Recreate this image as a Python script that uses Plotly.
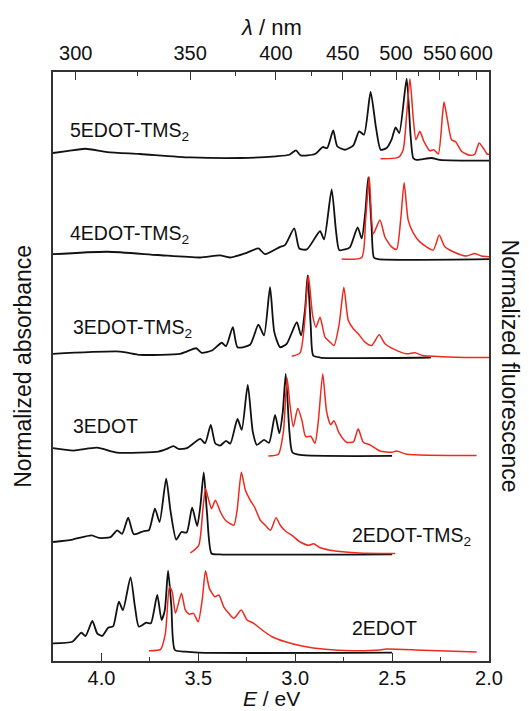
import plotly.graph_objects as go

# ---------------- data (E in eV, normalized intensity) ----------------
labels = ["5EDOT-TMS<sub>2</sub>", "4EDOT-TMS<sub>2</sub>", "3EDOT-TMS<sub>2</sub>",
          "3EDOT", "2EDOT-TMS<sub>2</sub>", "2EDOT"]
offsets = [6.0, 4.8, 3.6, 2.4, 1.2, 0.0]

a5_E = [4.25, 4.17, 4.083, 3.97, 3.80, 3.54, 3.285, 3.10, 3.03, 2.996, 2.972, 2.898, 2.858, 2.835, 2.804,
        2.783, 2.743, 2.70, 2.67, 2.645, 2.611, 2.583, 2.559, 2.528, 2.503, 2.482, 2.463, 2.425, 2.405,
        2.391, 2.374, 2.297, 2.254, 2.0]
a5_v = [0.094, 0.12, 0.146, 0.106, 0.082, 0.04, 0.033, 0.054, 0.073, 0.127, 0.066, 0.082, 0.167, 0.155,
        0.37, 0.176, 0.134, 0.188, 0.359, 0.317, 0.838, 0.40, 0.134, 0.155, 0.256, 0.407, 0.338, 1.0,
        0.317, 0.033, 0.01, 0.033, 0.01, 0.0]
f5_E = [2.559, 2.468, 2.443, 2.425, 2.408, 2.391, 2.377, 2.357, 2.336, 2.305, 2.285, 2.262, 2.24, 2.232,
        2.216, 2.193, 2.171, 2.142, 2.099, 2.073, 2.051, 2.03, 2.01, 2.0]
f5_v = [0.024, 0.04, 0.134, 0.56, 1.0, 0.52, 0.256, 0.358, 0.237, 0.122, 0.134, 0.082, 0.56, 0.716, 0.52,
        0.256, 0.228, 0.115, 0.066, 0.082, 0.216, 0.155, 0.082, 0.08]

a4_E = [4.25, 3.97, 3.71, 3.491, 3.388, 3.336, 3.25, 3.19, 3.156, 3.078, 3.053, 3.005, 2.979, 2.94, 2.872,
        2.851, 2.812, 2.79, 2.773, 2.743, 2.718, 2.678, 2.657, 2.639, 2.623, 2.606, 2.594, 2.572, 2.0]
a4_v = [0.06, 0.09, 0.05, 0.02, 0.045, 0.02, 0.077, 0.13, 0.06, 0.15, 0.17, 0.374, 0.13, 0.118, 0.34,
        0.24, 0.85, 0.354, 0.11, 0.118, 0.143, 0.387, 0.252, 0.557, 1.0, 0.394, 0.02, 0.0, 0.0]
f4_E = [2.76, 2.657, 2.637, 2.618, 2.597, 2.563, 2.537, 2.503, 2.477, 2.456, 2.438, 2.417, 2.391, 2.357,
        2.288, 2.257, 2.228, 2.185, 2.116, 2.073, 2.039, 2.0]
f4_v = [0.0, 0.02, 0.476, 1.0, 0.31, 0.476, 0.27, 0.15, 0.118, 0.476, 0.93, 0.476, 0.32, 0.21, 0.11,
        0.293, 0.15, 0.09, 0.037, 0.07, 0.037, 0.03]

a3t_E = [4.25, 3.903, 3.80, 3.594, 3.56, 3.511, 3.482, 3.43, 3.379, 3.357, 3.322, 3.298, 3.233, 3.19,
         3.161, 3.13, 3.108, 3.078, 3.044, 2.992, 2.97, 2.949, 2.936, 2.92, 2.907, 2.872, 2.30]
a3t_v = [0.045, 0.073, 0.033, 0.045, 0.073, 0.113, 0.057, 0.085, 0.18, 0.138, 0.37, 0.126, 0.155, 0.40,
         0.27, 0.857, 0.31, 0.126, 0.167, 0.43, 0.27, 0.594, 1.0, 0.39, 0.024, 0.0, 0.0]
f3t_E = [3.018, 2.975, 2.953, 2.932, 2.91, 2.893, 2.872, 2.846, 2.82, 2.80, 2.773, 2.749, 2.726, 2.70,
         2.675, 2.64, 2.606, 2.567, 2.537, 2.494, 2.425, 2.382, 2.34, 2.167, 2.0]
f3t_v = [0.016, 0.057, 0.39, 1.0, 0.51, 0.37, 0.49, 0.248, 0.187, 0.146, 0.41, 0.857, 0.45, 0.35, 0.29,
         0.187, 0.146, 0.277, 0.167, 0.106, 0.045, 0.057, 0.024, 0.004, 0.0]

a3_E = [4.25, 4.144, 4.023, 3.92, 3.80, 3.706, 3.666, 3.628, 3.603, 3.56, 3.49, 3.465, 3.436, 3.413,
        3.388, 3.357, 3.335, 3.298, 3.276, 3.245, 3.219, 3.198, 3.161, 3.135, 3.104, 3.082, 3.064, 3.049,
        3.03, 3.015, 2.975, 2.5]
a3_v = [0.094, 0.065, 0.10, 0.04, 0.04, 0.052, 0.082, 0.12, 0.085, 0.094, 0.207, 0.155, 0.378, 0.155,
        0.126, 0.183, 0.15, 0.45, 0.317, 0.866, 0.296, 0.134, 0.195, 0.16, 0.5, 0.277, 0.54, 1.0, 0.296,
        0.045, 0.012, 0.0]
f3_E = [3.139, 3.087, 3.061, 3.042, 3.027, 3.01, 2.987, 2.966, 2.946, 2.92, 2.898, 2.881, 2.858, 2.838,
        2.817, 2.80, 2.773, 2.735, 2.70, 2.675, 2.649, 2.614, 2.563, 2.503, 2.477, 2.425, 2.064]
f3_v = [0.0, 0.02, 0.296, 0.95, 0.62, 0.357, 0.58, 0.44, 0.235, 0.24, 0.155, 0.42, 1.0, 0.54, 0.38,
        0.43, 0.277, 0.167, 0.17, 0.33, 0.167, 0.134, 0.06, 0.045, 0.06, 0.02, 0.004]

a2t_E = [4.25, 4.15, 4.051, 4.013, 3.953, 3.919, 3.893, 3.862, 3.833, 3.781, 3.755, 3.724, 3.70, 3.666,
         3.644, 3.614, 3.587, 3.56, 3.532, 3.506, 3.489, 3.472, 3.455, 3.432, 3.394, 2.5]
a2t_v = [0.15, 0.18, 0.23, 0.2, 0.21, 0.293, 0.25, 0.447, 0.244, 0.284, 0.293, 0.557, 0.394, 0.923,
         0.537, 0.18, 0.272, 0.265, 0.57, 0.345, 0.6, 1.0, 0.496, 0.01, 0.0, 0.0]
f2t_E = [3.541, 3.498, 3.477, 3.463, 3.446, 3.432, 3.412, 3.386, 3.36, 3.317, 3.30, 3.278, 3.257, 3.232,
         3.21, 3.18, 3.154, 3.128, 3.099, 3.077, 3.051, 3.017, 2.974, 2.93, 2.905, 2.87, 2.793, 2.673, 2.484]
f2t_v = [0.016, 0.11, 0.537, 0.8, 0.659, 0.557, 0.659, 0.516, 0.415, 0.354, 0.537, 1.0, 0.78, 0.659,
         0.577, 0.415, 0.354, 0.293, 0.447, 0.354, 0.284, 0.232, 0.15, 0.11, 0.13, 0.08, 0.04, 0.016, 0.01]

a2_E = [4.25, 4.15, 4.125, 4.103, 4.082, 4.047, 4.022, 3.996, 3.965, 3.94, 3.91, 3.889, 3.85, 3.827,
        3.807, 3.769, 3.745, 3.712, 3.69, 3.673, 3.656, 3.639, 3.621, 3.567, 3.498, 2.5]
a2_v = [0.115, 0.134, 0.195, 0.244, 0.204, 0.387, 0.237, 0.204, 0.305, 0.32, 0.622, 0.52, 0.92, 0.56,
        0.317, 0.366, 0.36, 0.704, 0.4, 0.52, 1.0, 0.56, 0.033, 0.012, 0.0, 0.0]
f2_E = [3.755, 3.695, 3.67, 3.649, 3.635, 3.618, 3.587, 3.567, 3.546, 3.525, 3.501, 3.48, 3.463, 3.443,
        3.415, 3.394, 3.369, 3.343, 3.317, 3.278, 3.249, 3.214, 3.171, 3.12, 3.051, 2.965, 2.845, 2.707,
        2.563, 2.53, 2.34, 2.064]
f2_v = [0.024, 0.04, 0.237, 0.805, 0.744, 0.48, 0.724, 0.52, 0.47, 0.48, 0.378, 0.643, 1.0, 0.785,
        0.683, 0.704, 0.56, 0.48, 0.42, 0.52, 0.4, 0.358, 0.277, 0.195, 0.134, 0.082, 0.041, 0.024,
        0.033, 0.045, 0.03, 0.01]

absorb = [(a5_E, a5_v), (a4_E, a4_v), (a3t_E, a3t_v), (a3_E, a3_v), (a2t_E, a2t_v), (a2_E, a2_v)]
fluor = [(f5_E, f5_v), (f4_E, f4_v), (f3t_E, f3t_v), (f3_E, f3_v), (f2t_E, f2t_v), (f2_E, f2_v)]

# label placement (E, y-offset relative to panel baseline, anchor)
label_pos = [(4.175, 0.36, "left"), (4.175, 0.30, "left"), (4.155, 0.36, "left"),
             (4.155, 0.37, "left"), (2.717, 0.22, "left"), (2.717, 0.30, "left")]

wl_major = [300, 350, 400, 450, 500, 550, 600]
wl_minor = [325, 375, 425, 475, 525, 575]
E_major = [4.0, 3.5, 3.0, 2.5, 2.0]
E_minor = [3.75, 3.25, 2.75, 2.25]

BLACK = "#111111"
RED = "#ee2a1e"
AX = "#333333"
FONT = "Liberation Sans, Arial, sans-serif"

fig = go.Figure()
for off, (E, v) in zip(offsets, absorb):
    fig.add_trace(go.Scatter(x=E, y=[off + a for a in v], mode="lines",
                             line=dict(color=BLACK, width=1.8, shape="spline", smoothing=0.6),
                             hoverinfo="skip"))
for off, (E, v) in zip(offsets, fluor):
    fig.add_trace(go.Scatter(x=E, y=[off + a for a in v], mode="lines",
                             line=dict(color=RED, width=1.5, shape="spline", smoothing=0.6),
                             hoverinfo="skip"))
# dummy trace on top axis
fig.add_trace(go.Scatter(x=[4.25], y=[None], xaxis="x2", mode="lines", hoverinfo="skip"))

for lab, off, (ex, dy, anc) in zip(labels, offsets, label_pos):
    fig.add_annotation(x=ex, y=off + dy, xref="x", yref="y", text=lab, showarrow=False,
                       xanchor=anc, yanchor="middle", font=dict(size=19.5, color="#111", family=FONT))

hc = 1239.84
fig.update_layout(
    width=529, height=711,
    margin=dict(l=53, r=40, t=72, b=50),
    paper_bgcolor="white", plot_bgcolor="white",
    showlegend=False, hovermode=False,
    font=dict(family=FONT, color="#111"),
    xaxis=dict(range=[4.25, 2.0], tickmode="array", tickvals=E_major,
               ticktext=["4.0", "3.5", "3.0", "2.5", "2.0"],
               ticks="inside", ticklen=8, tickwidth=1.3, tickcolor=AX,
               minor=dict(tickmode="array", tickvals=E_minor, ticks="inside", ticklen=4,
                          tickwidth=1.3, tickcolor=AX),
               showline=True, linecolor=AX, linewidth=1.5, mirror=False,
               showgrid=False, zeroline=False, tickangle=0,
               tickfont=dict(size=20, family=FONT, color="#111"), ticklabelstandoff=-2),
    xaxis2=dict(range=[4.25, 2.0], overlaying="x", side="top", anchor="y",
                tickmode="array", tickvals=[hc / w for w in wl_major],
                ticktext=[str(w) for w in wl_major],
                ticks="inside", ticklen=8, tickwidth=1.3, tickcolor=AX,
                minor=dict(tickmode="array", tickvals=[hc / w for w in wl_minor], ticks="inside",
                           ticklen=4, tickwidth=1.3, tickcolor=AX),
                showline=True, linecolor=AX, linewidth=1.5,
                showgrid=False, zeroline=False, tickangle=0,
                tickfont=dict(size=20, family=FONT, color="#111"), ticklabelstandoff=2),
    yaxis=dict(range=[-0.101, 7.082], showticklabels=False, ticks="", showgrid=False,
               zeroline=False, showline=True, linecolor=AX, linewidth=1.5, mirror=True),
)

fig.add_annotation(x=0.5, y=-0.0645, xref="paper", yref="paper", text="<i>E</i> / eV",
                   showarrow=False, xanchor="center", yanchor="middle",
                   font=dict(size=21, family=FONT, color="#111"))
fig.add_annotation(x=0.5, y=1.0764, xref="paper", yref="paper", text="<i>λ</i> / nm",
                   showarrow=False, xanchor="center", yanchor="middle",
                   font=dict(size=22, family=FONT, color="#111"))
fig.add_annotation(x=-0.0704, y=0.5, xref="paper", yref="paper", text="Normalized absorbance",
                   showarrow=False, textangle=-90, xanchor="center", yanchor="middle",
                   font=dict(size=23, family=FONT, color="#111"))
fig.add_annotation(x=1.0504, y=0.5, xref="paper", yref="paper", text="Normalized fluorescence",
                   showarrow=False, textangle=90, xanchor="center", yanchor="middle",
                   font=dict(size=23, family=FONT, color="#111"))

fig.write_html("out.html")
